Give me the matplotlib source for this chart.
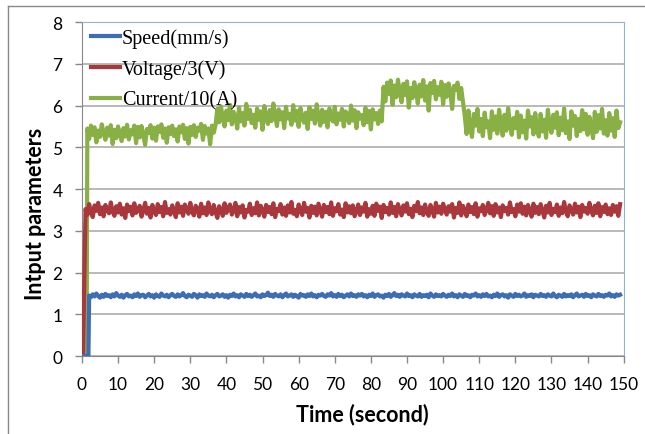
import numpy as np
import matplotlib.pyplot as plt
from matplotlib.lines import Line2D

# campionamento ogni 0.5 s
dt = 0.5

# avvio: (tempo, valore) prima del salto
speed_start = ([0, 1.8], [0, 0])
voltage_start = ([0, 0.3], [0, 0])
current_start = ([0, 1.3], [0, 0])

speed_t0 = 2.0
speed = [
    1.45, 1.41, 1.48, 1.43, 1.50, 1.44, 1.40, 1.47, 1.42, 1.49,
    1.44, 1.46, 1.41, 1.48, 1.43, 1.51, 1.45, 1.42, 1.47, 1.40,
    1.46, 1.49, 1.43, 1.45, 1.41, 1.48, 1.44, 1.50, 1.42, 1.46,
    1.47, 1.41, 1.45, 1.49, 1.43, 1.46, 1.40, 1.48, 1.44, 1.42,
    1.50, 1.45, 1.43, 1.47, 1.41, 1.46, 1.49, 1.44, 1.42, 1.48,
    1.43, 1.46, 1.51, 1.44, 1.41, 1.47, 1.45, 1.42, 1.49, 1.46,
    1.40, 1.48, 1.44, 1.46, 1.42, 1.50, 1.45, 1.43, 1.47, 1.41,
    1.46, 1.49, 1.43, 1.45, 1.48, 1.42, 1.46, 1.40, 1.47, 1.44,
    1.50, 1.43, 1.46, 1.41, 1.48, 1.45, 1.42, 1.49, 1.44, 1.47,
    1.42, 1.46, 1.50, 1.43, 1.45, 1.41, 1.48, 1.44, 1.46, 1.52,
    1.44, 1.47, 1.42, 1.49, 1.45, 1.43, 1.48, 1.41, 1.46, 1.50,
    1.43, 1.45, 1.48, 1.42, 1.47, 1.44, 1.40, 1.49, 1.45, 1.46,
    1.42, 1.48, 1.44, 1.50, 1.43, 1.46, 1.41, 1.47, 1.45, 1.49,
    1.44, 1.42, 1.48, 1.45, 1.51, 1.43, 1.46, 1.42, 1.49, 1.44,
    1.47, 1.41, 1.45, 1.48, 1.43, 1.50, 1.44, 1.46, 1.42, 1.48,
    1.45, 1.49, 1.43, 1.46, 1.41, 1.47, 1.44, 1.50, 1.42, 1.46,
    1.48, 1.43, 1.45, 1.40, 1.47, 1.44, 1.49, 1.42, 1.46, 1.51,
    1.44, 1.47, 1.42, 1.48, 1.45, 1.43, 1.50, 1.44, 1.46, 1.41,
    1.48, 1.45, 1.43, 1.49, 1.42, 1.46, 1.44, 1.47, 1.41, 1.50,
    1.45, 1.42, 1.48, 1.44, 1.46, 1.43, 1.49, 1.45, 1.42, 1.47,
    1.44, 1.50, 1.43, 1.46, 1.41, 1.48, 1.45, 1.42, 1.49, 1.44,
    1.46, 1.41, 1.47, 1.45, 1.50, 1.43, 1.46, 1.42, 1.48, 1.44,
    1.49, 1.43, 1.45, 1.41, 1.47, 1.44, 1.50, 1.42, 1.46, 1.48,
    1.43, 1.46, 1.40, 1.48, 1.45, 1.42, 1.49, 1.44, 1.47, 1.43,
    1.45, 1.50, 1.42, 1.46, 1.44, 1.48, 1.41, 1.47, 1.45, 1.43,
    1.49, 1.44, 1.46, 1.42, 1.48, 1.45, 1.43, 1.50, 1.44, 1.41,
    1.47, 1.45, 1.42, 1.49, 1.43, 1.46, 1.44, 1.48, 1.41, 1.46,
    1.50, 1.43, 1.45, 1.47, 1.42, 1.49, 1.44, 1.46, 1.41, 1.48,
    1.45, 1.43, 1.49, 1.44, 1.46, 1.42, 1.47, 1.45, 1.50, 1.43,
    1.46, 1.42, 1.48, 1.45, 1.47]

voltage_t0 = 1.0
voltage = [
    3.52, 3.38, 3.64, 3.45, 3.33, 3.61, 3.48, 3.67, 3.40, 3.56,
    3.35, 3.62, 3.50, 3.42, 3.68, 3.46, 3.36, 3.59, 3.44, 3.65,
    3.39, 3.54, 3.31, 3.63, 3.47, 3.58, 3.37, 3.66, 3.43, 3.51,
    3.60, 3.34, 3.49, 3.67, 3.41, 3.55, 3.32, 3.62, 3.46, 3.38,
    3.64, 3.45, 3.57, 3.35, 3.69, 3.43, 3.52, 3.39, 3.61, 3.48,
    3.33, 3.66, 3.44, 3.58, 3.36, 3.63, 3.50, 3.41, 3.67, 3.46,
    3.37, 3.60, 3.53, 3.34, 3.65, 3.42, 3.56, 3.38, 3.68, 3.47,
    3.40, 3.62, 3.45, 3.31, 3.59, 3.51, 3.36, 3.66, 3.43, 3.55,
    3.63, 3.39, 3.48, 3.67, 3.35, 3.57, 3.44, 3.61, 3.32, 3.50,
    3.46, 3.65, 3.38, 3.54, 3.42, 3.68, 3.37, 3.60, 3.49, 3.34,
    3.62, 3.45, 3.57, 3.40, 3.66, 3.33, 3.53, 3.47, 3.64, 3.39,
    3.56, 3.36, 3.61, 3.44, 3.69, 3.41, 3.50, 3.35, 3.63, 3.48,
    3.38, 3.67, 3.46, 3.55, 3.32, 3.60, 3.43, 3.58, 3.37, 3.65,
    3.49, 3.34, 3.62, 3.45, 3.57, 3.40, 3.68, 3.36, 3.54, 3.47,
    3.64, 3.39, 3.51, 3.33, 3.66, 3.44, 3.59, 3.42, 3.61, 3.35,
    3.47, 3.63, 3.38, 3.56, 3.46, 3.67, 3.34, 3.52, 3.41, 3.60,
    3.36, 3.65, 3.48, 3.58, 3.31, 3.62, 3.45, 3.55, 3.39, 3.68,
    3.43, 3.57, 3.35, 3.64, 3.50, 3.37, 3.61, 3.46, 3.66, 3.40,
    3.53, 3.33, 3.60, 3.47, 3.69, 3.42, 3.56, 3.38, 3.63, 3.45,
    3.36, 3.62, 3.49, 3.34, 3.67, 3.44, 3.58, 3.41, 3.65, 3.51,
    3.39, 3.59, 3.46, 3.64, 3.32, 3.55, 3.43, 3.68, 3.37, 3.60,
    3.48, 3.35, 3.63, 3.45, 3.57, 3.40, 3.66, 3.34, 3.54, 3.47,
    3.62, 3.38, 3.50, 3.67, 3.42, 3.59, 3.36, 3.64, 3.44, 3.56,
    3.33, 3.61, 3.47, 3.55, 3.39, 3.68, 3.45, 3.52, 3.35, 3.63,
    3.46, 3.66, 3.41, 3.58, 3.37, 3.62, 3.49, 3.34, 3.65, 3.43,
    3.57, 3.40, 3.64, 3.48, 3.32, 3.60, 3.44, 3.67, 3.38, 3.53,
    3.45, 3.63, 3.36, 3.56, 3.42, 3.69, 3.47, 3.35, 3.61, 3.50,
    3.39, 3.65, 3.44, 3.58, 3.33, 3.62, 3.46, 3.55, 3.41, 3.67,
    3.48, 3.37, 3.60, 3.43, 3.66, 3.35, 3.57, 3.45, 3.63, 3.40,
    3.54, 3.38, 3.62, 3.46, 3.59, 3.36, 3.64]

# corrente: quattro tratti, ognuno col suo tempo d'inizio
current_seg_t0 = [1.5, 37.5, 83.5, 106.0]
current_seg1 = [
    5.45, 5.20, 5.52, 5.30, 5.48, 5.12, 5.40, 5.25, 5.55, 5.35,
    5.18, 5.47, 5.28, 5.53, 5.08, 5.42, 5.22, 5.50, 5.33, 5.15,
    5.46, 5.26, 5.54, 5.19, 5.41, 5.31, 5.52, 5.10, 5.49, 5.24,
    5.51, 5.29, 5.06, 5.44, 5.34, 5.53, 5.21, 5.47, 5.16, 5.50,
    5.37, 5.55, 5.23, 5.45, 5.11, 5.48, 5.32, 5.52, 5.27, 5.43,
    5.14, 5.50, 5.36, 5.54, 5.20, 5.46, 5.09, 5.49, 5.30, 5.53,
    5.25, 5.47, 5.40, 5.56, 5.18, 5.51, 5.33, 5.45, 5.07, 5.52,
    5.35, 5.54]
current_seg2 = [
    5.92, 5.60, 5.98, 5.70, 5.50, 5.88, 5.65, 6.02, 5.55, 5.85,
    5.73, 5.45, 5.95, 5.62, 5.82, 5.52, 6.04, 5.68, 5.90, 5.58,
    5.78, 5.47, 5.93, 5.66, 5.86, 5.42, 5.99, 5.71, 5.56, 5.89,
    5.63, 6.05, 5.75, 5.51, 5.91, 5.67, 5.84, 5.46, 5.97, 5.69,
    5.80, 5.54, 6.01, 5.64, 5.87, 5.49, 5.94, 5.72, 5.59, 5.83,
    5.44, 5.96, 5.68, 5.88, 5.57, 6.03, 5.74, 5.52, 5.90, 5.61,
    5.85, 5.48, 5.93, 5.70, 5.62, 5.97, 5.55, 5.81, 5.66, 5.92,
    5.50, 5.86, 5.73, 5.58, 6.00, 5.64, 5.89, 5.46, 5.84, 5.69,
    5.77, 5.53, 5.95, 5.60, 5.87, 5.43, 5.91, 5.67, 5.82, 5.56,
    5.88, 5.62]
current_seg3 = [
    6.45, 6.10, 6.55, 6.28, 6.60, 6.02, 6.48, 6.20, 6.62, 6.32,
    6.08, 6.52, 6.25, 6.58, 5.95, 6.42, 6.18, 6.56, 6.35, 6.05,
    6.50, 6.22, 6.61, 6.12, 6.46, 5.88, 6.54, 6.30, 6.59, 6.15,
    6.44, 6.26, 6.57, 6.03, 6.49, 6.21, 6.53, 6.34, 5.92, 6.47,
    6.38, 6.55, 6.16, 6.42]
current_seg4 = [
    5.75, 5.32, 5.88, 5.45, 5.25, 5.80, 5.52, 5.92, 5.38, 5.68,
    5.27, 5.83, 5.48, 5.62, 5.22, 5.86, 5.42, 5.74, 5.33, 5.90,
    5.55, 5.28, 5.78, 5.40, 5.94, 5.58, 5.30, 5.70, 5.46, 5.85,
    5.24, 5.76, 5.36, 5.64, 5.21, 5.88, 5.50, 5.72, 5.31, 5.82,
    5.44, 5.26, 5.80, 5.38, 5.66, 5.23, 5.90, 5.53, 5.35, 5.78,
    5.47, 5.84, 5.29, 5.71, 5.41, 5.93, 5.34, 5.62, 5.20, 5.86,
    5.52, 5.75, 5.27, 5.68, 5.39, 5.89, 5.43, 5.80, 5.30, 5.73,
    5.49, 5.22, 5.85, 5.37, 5.77, 5.45, 5.92, 5.33, 5.65, 5.28,
    5.82, 5.40, 5.70, 5.25, 5.88, 5.46, 5.60]

xticks = list(range(0, 151, 10))
yticks = list(range(0, 9))


def build(start, t0, vals):
    t = list(start[0]) + list(t0 + dt * np.arange(len(vals)))
    y = list(start[1]) + list(vals)
    return t, y


speed_t, speed_y = build(speed_start, speed_t0, speed)
voltage_t, voltage_y = build(voltage_start, voltage_t0, voltage)
current_t, current_y = list(current_start[0]), list(current_start[1])
for t0, seg in zip(current_seg_t0, [current_seg1, current_seg2, current_seg3, current_seg4]):
    current_t += list(t0 + dt * np.arange(len(seg)))
    current_y += seg

plt.rcParams['font.family'] = ['Lato', 'DejaVu Sans']

fig = plt.figure(figsize=(6.45, 4.35), dpi=100)
ax = fig.add_axes([0.127, 0.179, 0.840, 0.768])

ax.plot(current_t, current_y, color='#89B045', lw=3.0, label='Current/10(A)', zorder=3)
ax.plot(voltage_t, voltage_y, color='#A9373B', lw=3.0, label='Voltage/3(V)', zorder=3)
ax.plot(speed_t, speed_y, color='#3E6DB5', lw=3.0, label='Speed(mm/s)', zorder=4)

ax.set_xlim(0, 150)
ax.set_ylim(0, 8)
ax.set_xticks(xticks)
ax.set_yticks(yticks)
ax.tick_params(axis='both', labelsize=12.5, color='#888888', length=5, width=1, pad=9)
ax.grid(axis='y', color='#a6a6a6', lw=1.1)
ax.set_axisbelow(True)

for s in ['left', 'bottom']:
    ax.spines[s].set_color('#888888')
for s in ['top', 'right']:
    ax.spines[s].set_color('#95b3d7')

ax.set_xlabel('Time (second)', fontsize=15.5, fontweight='bold')
ax.set_ylabel('Intput parameters', fontsize=15.5, fontweight='bold')
ax.xaxis.set_label_coords(0.518, -0.138)
ax.yaxis.set_label_coords(-0.066, 0.43)

# legenda in ordine Speed, Voltage, Current
h, l = ax.get_legend_handles_labels()
ax.legend(h[::-1], l[::-1], loc='upper left', bbox_to_anchor=(0.003, 1.003),
          frameon=False, handlelength=1.45, handletextpad=0.1, labelspacing=0.57,
          borderpad=0.35, borderaxespad=0.0,
          prop={'family': 'Liberation Serif', 'size': 14.5})

# cornice esterna (solo sopra e a sinistra, come nell'originale ritagliato)
fig.add_artist(Line2D([8 / 645, 1], [1 - 7 / 435, 1 - 7 / 435], transform=fig.transFigure,
                      color='#888888', lw=1))
fig.add_artist(Line2D([8 / 645, 8 / 645], [0, 1 - 7 / 435], transform=fig.transFigure,
                      color='#888888', lw=1))

fig.savefig('out.png', dpi=100)
